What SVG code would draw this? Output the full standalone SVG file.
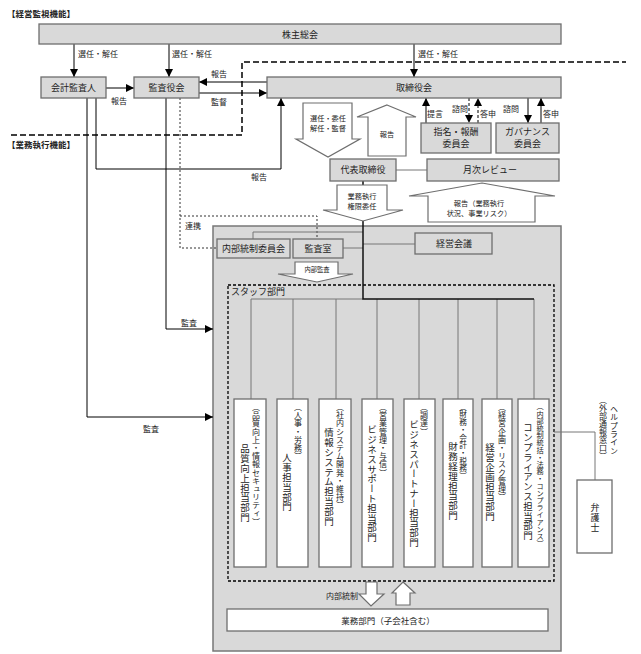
<svg xmlns="http://www.w3.org/2000/svg" width="641" height="654" viewBox="0 0 641 654">
<style>
text{font-family:"Noto Sans CJK JP","Noto Sans",sans-serif;fill:#222;}
.t9{font-size:9px;}
.t8{font-size:8px;}
.t7{font-size:7.2px;}
.c{text-anchor:middle;}
.h{font-size:8.5px;font-weight:bold;}
.box{fill:#d9d9d9;stroke:#6e6e6e;stroke-width:1.3;}
.wbox{fill:#fff;stroke:#6e6e6e;stroke-width:1.3;}
.ln{fill:none;stroke:#000;stroke-width:1;}
.gl{fill:none;stroke:#777;stroke-width:1;}
.dl{fill:none;stroke:#000;stroke-width:1;stroke-dasharray:3,2;}
.dt{fill:none;stroke:#333;stroke-width:1;stroke-dasharray:2,2;}
.sep{fill:none;stroke:#000;stroke-width:1.5;stroke-dasharray:6,3;}
.blk{fill:#fff;stroke:#6e6e6e;stroke-width:1.2;}
.v{writing-mode:vertical-rl;dominant-baseline:central;}
.vm{font-size:9.5px;letter-spacing:0.3px;}
.vp{font-size:8px;letter-spacing:0.2px;}
</style>
<defs>
<marker id="ah" markerWidth="8" markerHeight="8" refX="8" refY="4" orient="auto" markerUnits="userSpaceOnUse">
<path d="M0,0 L8,4 L0,8 z" fill="#000"/>
</marker>
</defs>

<text class="h" x="7" y="17">【経営監視機能】</text>
<text class="h" x="7" y="148">【業務執行機能】</text>

<g id="execution-area">
<rect x="213" y="226" width="348" height="425" fill="#d9d9d9" stroke="#777" stroke-width="1.5"/>
</g>
<g id="staff-area">
<rect x="228" y="285" width="326" height="296" fill="none" stroke="#000" stroke-width="1.3" stroke-dasharray="3,2"/>
<text class="t9" x="231" y="295">スタッフ部門</text>
</g>

<g id="connectors">
<path class="sep" d="M11,135 H242 V62 H626"/>
<line class="ln" x1="74" y1="44" x2="74" y2="77" marker-end="url(#ah)"/>
<line class="ln" x1="169" y1="44" x2="169" y2="77" marker-end="url(#ah)"/>
<line class="ln" x1="414" y1="44" x2="414" y2="77" marker-end="url(#ah)"/>
<line class="ln" x1="106" y1="88" x2="134" y2="88" marker-end="url(#ah)"/>
<line class="ln" x1="267" y1="82" x2="199" y2="82" marker-end="url(#ah)"/>
<line class="ln" x1="199" y1="93" x2="267" y2="93" marker-end="url(#ah)"/>
<path class="ln" d="M96,98 V169 H281 V98" marker-end="url(#ah)"/>
<path class="ln" d="M87,98 V417 H213" marker-end="url(#ah)"/>
<path class="ln" d="M166,98 V329 H213" marker-end="url(#ah)"/>
<path class="dt" d="M180,98 V248 H217"/>
<path class="dt" d="M180,216 H317 V239"/>
<line class="ln" x1="426" y1="123" x2="426" y2="98" marker-end="url(#ah)"/>
<line class="dl" x1="469" y1="98" x2="469" y2="123" marker-end="url(#ah)"/>
<line class="dl" x1="478" y1="123" x2="478" y2="98" marker-end="url(#ah)"/>
<line class="ln" x1="528" y1="98" x2="528" y2="123" marker-end="url(#ah)"/>
<line class="ln" x1="541" y1="123" x2="541" y2="98" marker-end="url(#ah)"/>
<line class="gl" x1="396" y1="170" x2="427" y2="170"/>
<path class="gl" d="M253,239 V232 H363"/>
<line class="gl" x1="343" y1="248" x2="363" y2="248"/>
<line class="gl" x1="363" y1="244" x2="415" y2="244"/>
<path class="gl" d="M251,399 V299 H363"/>
<path class="gl" d="M293,399 V299"/>
<path class="gl" d="M336,399 V299"/>
<path class="gl" d="M377,399 V299"/>
<path class="gl" d="M419,399 V299"/>
<path class="gl" d="M458,399 V299"/>
<path class="gl" d="M497,399 V299"/>
<path class="gl" d="M534,399 V299"/>
<path d="M363,181 V299 H534" fill="none" stroke="#111" stroke-width="1.5"/>
<path class="gl" d="M554,432 H595 V480"/>

<text class="t8" x="78" y="57">選任・解任</text>
<text class="t8" x="172" y="57">選任・解任</text>
<text class="t8" x="418" y="57">選任・解任</text>
<text class="t8 c" x="119" y="104">報告</text>
<text class="t8 c" x="219" y="77">報告</text>
<text class="t8 c" x="219" y="105">監督</text>
<text class="t8 c" x="259" y="180">報告</text>
<text class="t8 c" x="189" y="326">監査</text>
<text class="t8 c" x="151" y="432">監査</text>
<text class="t8" x="185" y="229">連携</text>
<text class="t8" x="427" y="117">提言</text>
<text class="t8" x="452" y="112">諮問</text>
<text class="t8" x="480" y="117">答申</text>
<text class="t8" x="503" y="112">諮問</text>
<text class="t8" x="543" y="117">答申</text>
<text class="t8" x="358" y="599" text-anchor="end">内部統制</text>
<text class="t8 v" x="614" y="405" style="letter-spacing:0.3px">ヘルプライン</text>
<text class="t8 v" x="603" y="396">（外部通報窓口）</text>
</g>

<g id="arrow-appoint">
<polygon class="blk" points="303,103 352,103 352,139 360,139 328,157 296,139 303,139"/>
<text class="t7 c" x="328" y="121">選任・委任</text>
<text class="t7 c" x="328" y="131">解任・監督</text>
</g>
<g id="arrow-report">
<polygon class="blk" points="387,105 416,117 406,117 406,156 368,156 368,117 357,117"/>
<text class="t7 c" x="387" y="137">報告</text>
</g>
<g id="arrow-delegate">
<polygon class="blk" points="337,185 387,185 387,210 403,210 363,221 323,210 337,210"/>
<text class="t7 c" x="362" y="199">業務執行</text>
<text class="t7 c" x="362" y="209">権限委任</text>
</g>
<g id="arrow-report2">
<polygon class="blk" points="482,183 555,196 535,196 535,222 428,222 428,196 409,196"/>
<text class="t7 c" x="479" y="206">報告（業務執行</text>
<text class="t7 c" x="479" y="216">状況、事業リスク）</text>
</g>
<g id="arrow-audit">
<polygon class="blk" points="295,262 338,262 338,274 353,274 317,282 278,274 295,274"/>
<text class="c" x="317" y="272" style="font-size:6.3px">内部監査</text>
</g>
<g id="arrow-ic-down">
<polygon class="blk" points="366,582 377,582 377,594 384,594 371,606 359,594 366,594"/>
</g>
<g id="arrow-ic-up">
<polygon class="blk" points="403,582 415,593 410,593 410,605 396,605 396,593 392,593"/>
</g>

<g id="shareholders"><rect class="box" x="39" y="24" width="522" height="20"/><text class="t9 c" x="300" y="37.5">株主総会</text></g>
<g id="auditor"><rect class="box" x="41" y="77" width="65" height="21"/><text class="t9 c" x="73.5" y="91">会計監査人</text></g>
<g id="audit-board"><rect class="box" x="134" y="77" width="65" height="21"/><text class="t9 c" x="166.5" y="91">監査役会</text></g>
<g id="board"><rect class="box" x="267" y="77" width="294" height="21"/><text class="t9 c" x="414" y="91">取締役会</text></g>
<g id="nomination"><rect class="box" x="421" y="123" width="70" height="30"/><text class="t9 c" x="456" y="135">指名・報酬</text><text class="t9 c" x="456" y="147">委員会</text></g>
<g id="governance"><rect class="box" x="496" y="123" width="63" height="30"/><text class="t9 c" x="527.5" y="135">ガバナンス</text><text class="t9 c" x="527.5" y="147">委員会</text></g>
<g id="ceo"><rect class="box" x="330" y="159" width="66" height="22"/><text class="t9 c" x="363" y="173">代表取締役</text></g>
<g id="monthly"><rect class="box" x="427" y="159" width="132" height="22"/><text class="t9 c" x="490" y="173">月次レビュー</text></g>
<g id="mgmt-meeting"><rect class="box" x="415" y="233" width="77" height="21"/><text class="t9 c" x="454" y="247">経営会議</text></g>
<g id="ic-committee"><rect class="box" x="217" y="239" width="73" height="19"/><text class="t9 c" x="253.5" y="252">内部統制委員会</text></g>
<g id="audit-office"><rect class="box" x="293" y="239" width="50" height="19"/><text class="t9 c" x="318" y="252">監査室</text></g>

<g id="dept1"><rect class="wbox" x="234" y="399" width="32" height="168"/>
<text class="v vp" x="256" y="403">（品質向上・情報セキュリティ）</text>
<text class="v vm" x="245" y="444">品質向上担当部門</text></g>
<g id="dept2"><rect class="wbox" x="277" y="399" width="31" height="168"/>
<text class="v vp" x="298" y="403">（人事・労務）</text>
<text class="v vm" x="287" y="453">人事担当部門</text></g>
<g id="dept3"><rect class="wbox" x="319" y="399" width="32" height="168"/>
<text class="v vp" x="340" y="403">（社内システム開発・維持）</text>
<text class="v vm" x="329" y="428">情報システム担当部門</text></g>
<g id="dept4"><rect class="wbox" x="362" y="399" width="31" height="168"/>
<text class="v vp" x="383" y="403">（営業管理・与信）</text>
<text class="v vm" x="372" y="425">ビジネスサポート担当部門</text></g>
<g id="dept5"><rect class="wbox" x="404" y="399" width="31" height="168"/>
<text class="v vp" x="424" y="403">（調達）</text>
<text class="v vm" x="414" y="420">ビジネスパートナー担当部門</text></g>
<g id="dept6"><rect class="wbox" x="443" y="399" width="30" height="168"/>
<text class="v" x="463" y="403" style="font-size:7.7px">（財務・会計・税務）</text>
<text class="v vm" x="453" y="442">財務経理担当部門</text></g>
<g id="dept7"><rect class="wbox" x="482" y="399" width="30" height="168"/>
<text class="v vp" x="502" y="403">（経営企画・リスク管理）</text>
<text class="v vm" x="490" y="443">経営企画担当部門</text></g>
<g id="dept8"><rect class="wbox" x="518" y="399" width="31" height="168"/>
<text class="v" x="540" y="403" style="font-size:7.2px">（内部統制統括・法務・コンプライアンス）</text>
<text class="v vm" x="528" y="423">コンプライアンス担当部門</text></g>

<g id="lawyer"><rect class="wbox" x="577" y="480" width="35" height="73"/>
<text class="v t9" x="595" y="503" style="letter-spacing:1px">弁護士</text></g>
<g id="business"><rect class="wbox" x="227" y="609" width="321" height="22"/><text class="c" x="388" y="624" style="font-size:8.5px">業務部門（子会社含む）</text></g>
</svg>
